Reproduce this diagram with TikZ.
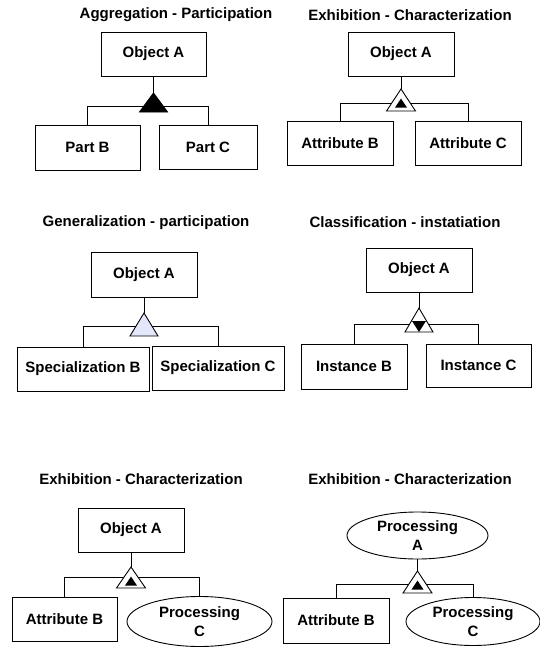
\documentclass[tikz,border=0pt]{standalone}
\usepackage{fontspec}
\setmainfont{Liberation Sans}
\usetikzlibrary{shapes.geometric}
\definecolor{genfill}{RGB}{228,230,250}
\tikzset{
  every path/.style={line width=0.9pt},
  title/.style={font=\fontsize{15}{17}\selectfont\bfseries, inner sep=0pt},
  box/.style={draw, fill=white, font=\fontsize{15}{17}\selectfont\bfseries, inner sep=0pt},
  proc/.style={draw, ellipse, fill=white, align=center, inner sep=0pt,
    font=\fontsize{15}{19}\selectfont\bfseries},
  link/.style={draw, line width=0.9pt},
  outer/.style={draw, fill=white, line join=miter},
  solid tri/.style={fill=black},
}
\begin{document}
\begin{tikzpicture}[x=1pt,y=-1pt]
\useasboundingbox (0,0) rectangle (540,649);

% ---------- Aggregation - Participation ----------
\node[title] (t1) at (176,15) {Aggregation - Participation};
\node[box, minimum width=105pt, minimum height=44pt] (a1) at (153.5,54) {Object A};
\node[box, minimum width=105pt, minimum height=45pt] (b1) at (87.5,147.5) {Part B};
\node[box, minimum width=98pt, minimum height=44pt] (c1) at (208,147) {Part C};
\coordinate (k1) at (153.5,93);
\coordinate (h1) at (0,106);
\draw[link] (a1.south) -- (k1);
\draw[link] (b1.north) |- (h1 -| c1.north) -- (c1.north);
\filldraw[solid tri] (k1) -- ++(14,19) -- ++(-28,0) -- cycle;

% ---------- Exhibition - Characterization ----------
\node[title] (t2) at (410,15) {Exhibition - Characterization};
\node[box, minimum width=106pt, minimum height=44pt] (a2) at (401,54) {Object A};
\node[box, minimum width=106pt, minimum height=44pt] (b2) at (340,143) {Attribute B};
\node[box, minimum width=106pt, minimum height=44pt] (c2) at (468,143) {Attribute C};
\coordinate (k2) at (401,89);
\coordinate (h2) at (0,103);
\draw[link] (a2.south) -- (k2);
\draw[link] (b2.north) |- (h2 -| c2.north) -- (c2.north);
\draw[outer] (k2) -- ++(14.5,22) -- ++(-29,0) -- cycle;
\fill[solid tri] (401,98.5) -- ++(6,9) -- ++(-12,0) -- cycle;

% ---------- Generalization - participation ----------
\node[title] (t3) at (146,223) {Generalization - participation};
\node[box, minimum width=106pt, minimum height=45pt] (a3) at (144,274.5) {Object A};
\node[box, minimum width=132pt, minimum height=44pt] (b3) at (83,369) {Specialization B};
\node[box, minimum width=132pt, minimum height=44pt] (c3) at (218,368) {Specialization C};
\coordinate (k3) at (144,313);
\coordinate (h3) at (0,326);
\draw[link] (a3.south) -- (k3);
\draw[link] (b3.north) |- (h3 -| c3.north) -- (c3.north);
\draw[outer, fill=genfill] (k3) -- ++(14,23) -- ++(-28,0) -- cycle;

% ---------- Classification - instatiation ----------
\node[title] (t4) at (405,222) {Classification - instatiation};
\node[box, minimum width=106pt, minimum height=44pt] (a4) at (419,270) {Object A};
\node[box, minimum width=106pt, minimum height=45pt] (b4) at (354,366.5) {Instance B};
\node[box, minimum width=105pt, minimum height=43pt] (c4) at (478.5,365.5) {Instance C};
\coordinate (k4) at (419,308);
\coordinate (h4) at (0,324);
\draw[link] (a4.south) -- (k4);
\draw[link] (b4.north) |- (h4 -| c4.north) -- (c4.north);
\draw[outer] (k4) -- ++(14,24) -- ++(-28,0) -- cycle;
\fill[solid tri] (419,332) -- ++(7,-11) -- ++(-14,0) -- cycle;

% ---------- Exhibition - Characterization (object / process) ----------
\node[title] (t5) at (141,479) {Exhibition - Characterization};
\node[box, minimum width=106pt, minimum height=44pt] (a5) at (131,530) {Object A};
\node[box, minimum width=105pt, minimum height=44pt] (b5) at (64.5,619) {Attribute B};
\node[proc, minimum width=145pt, minimum height=50pt] (c5) at (199.5,621.5) {Processing\\C};
\coordinate (k5) at (131,567);
\coordinate (h5) at (0,577);
\draw[link] (a5.south) -- (k5);
\draw[link] (b5.north) |- (h5 -| c5.north) -- (c5.north);
\draw[outer] (k5) -- ++(14.5,21) -- ++(-29,0) -- cycle;
\fill[solid tri] (131,576.5) -- ++(6,9) -- ++(-12,0) -- cycle;

% ---------- Exhibition - Characterization (process / process) ----------
\node[title] (t6) at (410,479) {Exhibition - Characterization};
\node[proc, minimum width=141pt, minimum height=47pt] (a6) at (417.5,535.5) {Processing\\A};
\node[box, minimum width=106pt, minimum height=45pt] (b6) at (336,620.5) {Attribute B};
\node[proc, minimum width=134pt, minimum height=48pt] (c6) at (473,621.5) {Processing\\C};
\coordinate (k6) at (417.5,571);
\coordinate (h6) at (0,584);
\draw[link] (a6.south) -- (k6);
\draw[link] (b6.north) |- (h6 -| c6.north) -- (c6.north);
\draw[outer] (k6) -- ++(14.5,22) -- ++(-29,0) -- cycle;
\fill[solid tri] (417.5,580.5) -- ++(6,9) -- ++(-12,0) -- cycle;
\end{tikzpicture}
\end{document}
